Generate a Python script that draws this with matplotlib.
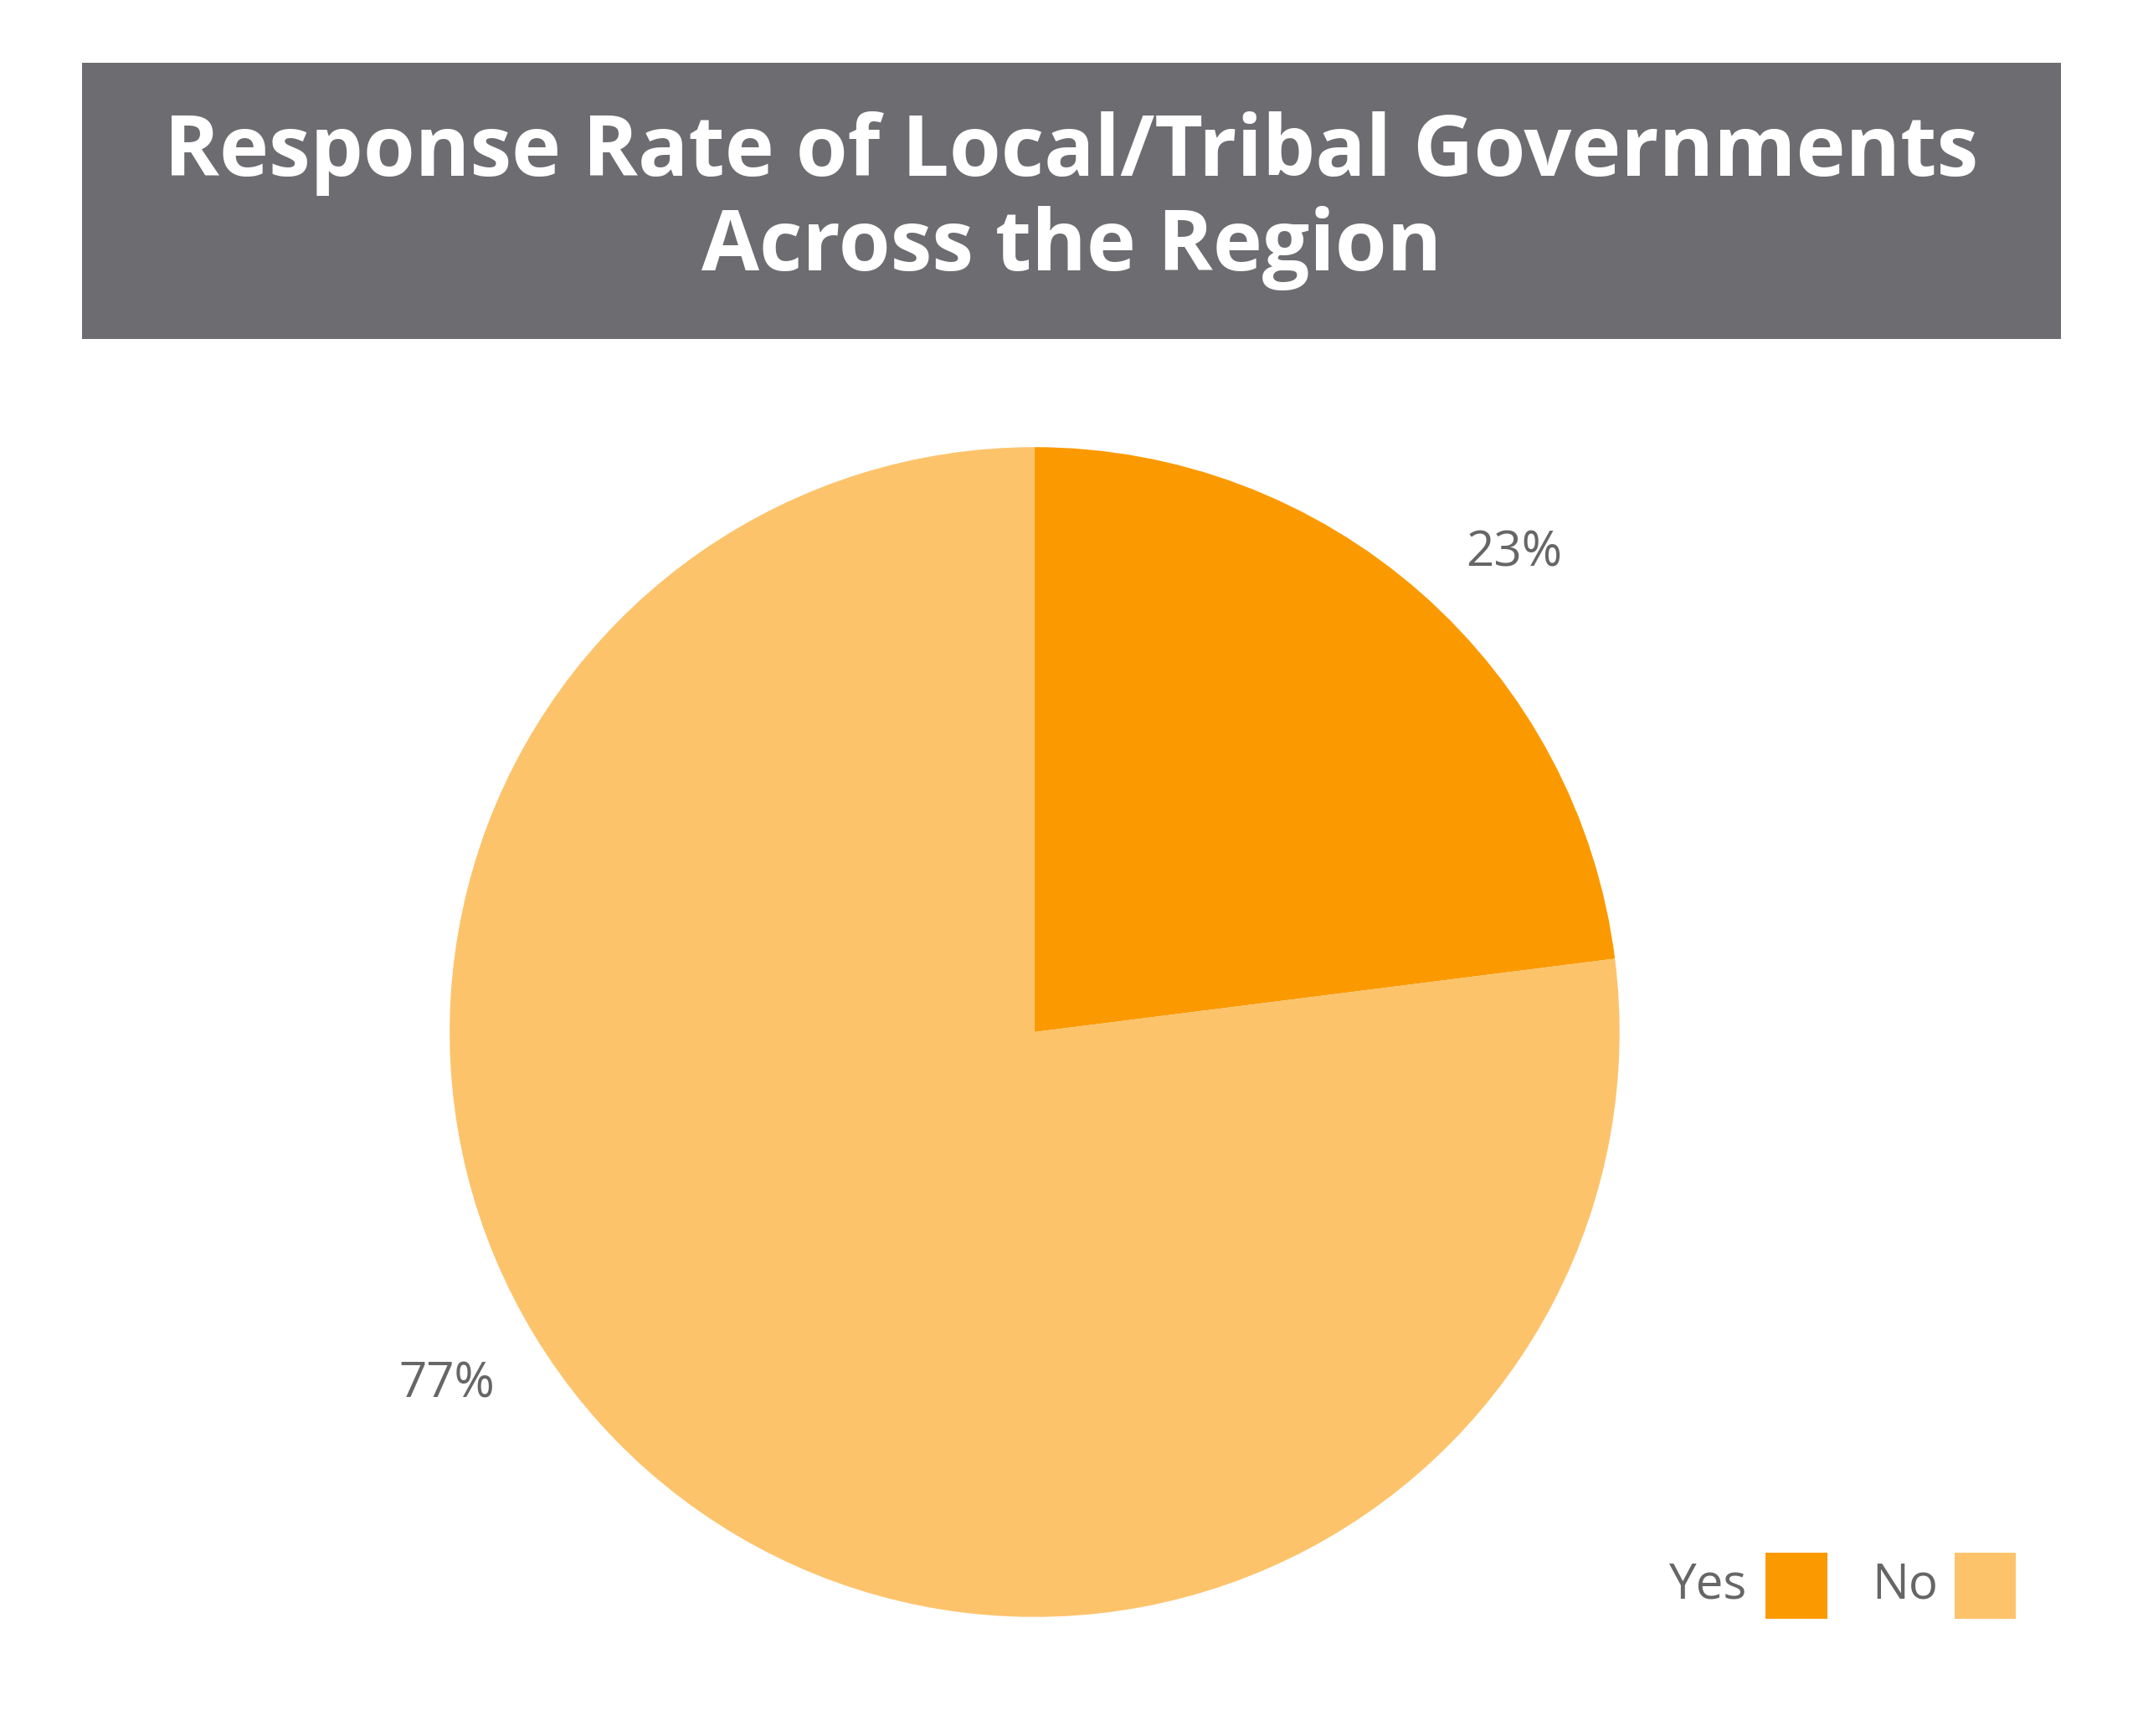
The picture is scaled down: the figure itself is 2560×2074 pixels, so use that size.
import matplotlib
matplotlib.use("Agg")
import matplotlib.pyplot as plt
from matplotlib.patches import Rectangle

title = "Response Rate of Local/Tribal Governments\nAcross the Region"
categories = ["Yes", "No"]
values = [23, 77]
colors = ["#FB9A00", "#FDC36B"]

W, H = 1568, 1270
fig = plt.figure(figsize=(25.6, 20.74), dpi=100)
fig.patch.set_facecolor("white")

# title box
fig.patches.append(Rectangle((60/W, 1-248/H), (1508-60)/W, (248-46)/H,
                             transform=fig.transFigure, facecolor="#6D6C71", edgecolor="none"))
fig.text(784/W, 1-147/H, title, ha="center", va="center", color="white",
         fontsize=72, fontweight="bold", family="Open Sans", linespacing=1.15)

cx, cy, r = 757, 755, 428
ax = fig.add_axes([(cx-r)/W, 1-(cy+r)/H, 2*r/W, 2*r/H])
wedges, _ = ax.pie(values, colors=colors, startangle=90, counterclock=False,
                   radius=1, wedgeprops=dict(linewidth=0))
ax.set_xlim(-1, 1); ax.set_ylim(-1, 1); ax.set_aspect("equal"); ax.axis("off")

label_pos = [(1108, 405), (327, 1013)]
for v, (x, y) in zip(values, label_pos):
    fig.text(x/W, 1-y/H, f"{v}%", ha="center", va="center", color="#666666",
             fontsize=42, family="Open Sans")

# legend
for cat, col, tx, sx in zip(categories, colors, [1278, 1418], [1292, 1430]):
    fig.text(tx/W, 1-1160/H, cat, ha="right", va="center", color="#666666",
             fontsize=42, family="Open Sans")
    fig.patches.append(Rectangle((sx/W, 1-1184/H), 45/W, 48/H, transform=fig.transFigure,
                                 facecolor=col, edgecolor="none"))

fig.savefig("out.png", dpi=100, facecolor="white")
